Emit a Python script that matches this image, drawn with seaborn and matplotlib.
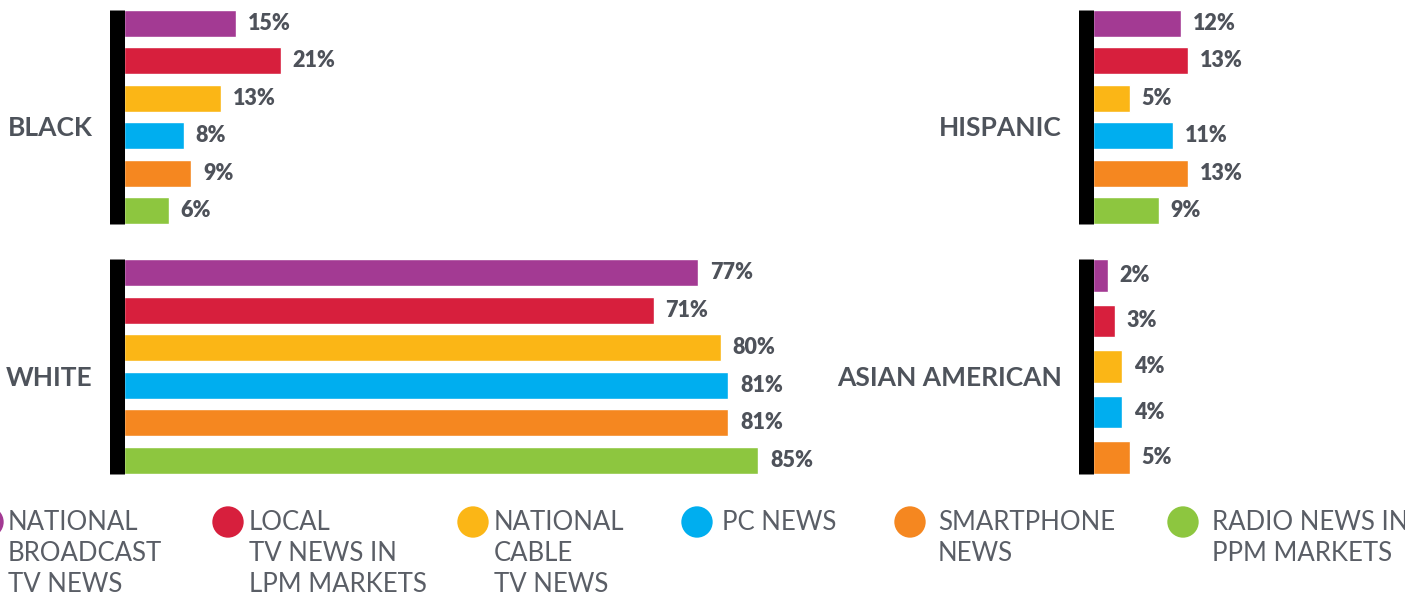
import pandas as pd
import seaborn as sns
import matplotlib.pyplot as plt

# Media categories and colours (top to bottom)
media = [
    "National broadcast TV news",
    "Local TV news in LPM markets",
    "National cable TV news",
    "PC news",
    "Smartphone news",
    "Radio news in PPM markets",
]
colors = ["#A33A93", "#D71F3D", "#FBB616", "#00AEEF", "#F58720", "#8DC63F"]

# Share of audience by group (%)
black = [15, 21, 13, 8, 9, 6]
white = [77, 71, 80, 81, 81, 85]
hispanic = [12, 13, 5, 11, 13, 9]
asian_american = [2, 3, 4, 4, 5]

legend_labels = [
    "NATIONAL\nBROADCAST\nTV NEWS",
    "LOCAL\nTV NEWS IN\nLPM MARKETS",
    "NATIONAL\nCABLE\nTV NEWS",
    "PC NEWS",
    "SMARTPHONE\nNEWS",
    "RADIO NEWS IN\nPPM MARKETS",
]

# layout (pixels)
W, H = 1405, 597
legend_circle_x = [-12, 228, 473, 697, 910, 1183]
legend_text_x = [8, 249, 494, 722, 938, 1212]

sns.set_theme(style="white")
plt.rcParams["font.family"] = ["Lato", "DejaVu Sans"]

VALUE_COLOR = "#4e525a"
LABEL_COLOR = "#4e535b"
LEGEND_COLOR = "#5a5e66"

fig = plt.figure(figsize=(W / 100, H / 100), dpi=100)


def panel(rect, values, title, xmax):
    ax = fig.add_axes(rect)
    n = len(values)
    df = pd.DataFrame({"media": media[:n], "share": values})
    sns.barplot(data=df, y="media", x="share", hue="media",
                palette=colors[:n], width=0.72, saturation=1,
                legend=False, ax=ax)
    ax.set_xlim(0, xmax)
    ax.set_ylim(n - 1 + 0.36, -0.36)
    for c in ax.containers:
        ax.bar_label(c, fmt="%d%%", padding=8.6, fontsize=15.5,
                     fontweight="heavy", color=VALUE_COLOR)
    ax.set(xlabel="", ylabel="", xticks=[], yticks=[])
    for s in ["top", "right", "bottom"]:
        ax.spines[s].set_visible(False)
    ax.spines["left"].set_linewidth(10.8)
    ax.spines["left"].set_color("black")
    ax.spines["left"].set_capstyle("butt")
    ax.spines["left"].set_position(("outward", 5.4))
    ax.annotate(title, xy=(0, 0.5), xycoords="axes fraction",
                xytext=(-22.5, -8), textcoords="offset points",
                ha="right", va="center", fontsize=19, fontweight="bold",
                color=LABEL_COLOR)
    return ax


left_x, left_w = 124 / W, 700 / W
right_x, right_w = 1093 / W, 312 / W
top_y, top_h = (H - 224) / H, 214 / H
bot_y, bot_h = (H - 474) / H, 215 / H

panel([left_x, top_y, left_w, top_h], black, "BLACK", 700 / 7.46)
panel([left_x, bot_y, left_w, bot_h], white, "WHITE", 700 / 7.46)
panel([right_x, top_y, right_w, top_h], hispanic, "HISPANIC", 312 / 7.3)
panel([right_x, bot_y, right_w, bot_h], asian_american, "ASIAN AMERICAN", 312 / 7.3)

# legend drawn in pixel coordinates
leg = fig.add_axes([0, 0, 1, 1], zorder=-1)
leg.set_xlim(0, W)
leg.set_ylim(H, 0)
leg.axis("off")
leg.scatter(legend_circle_x, [522] * len(colors), s=510, c=colors,
            linewidths=0, clip_on=False)
for tx, label in zip(legend_text_x, legend_labels):
    for i, line in enumerate(label.split("\n")):
        leg.text(tx, 530 + 31 * i, line, ha="left", va="baseline",
                 fontsize=18.5, color=LEGEND_COLOR)

plt.savefig("out.png", dpi=100)
